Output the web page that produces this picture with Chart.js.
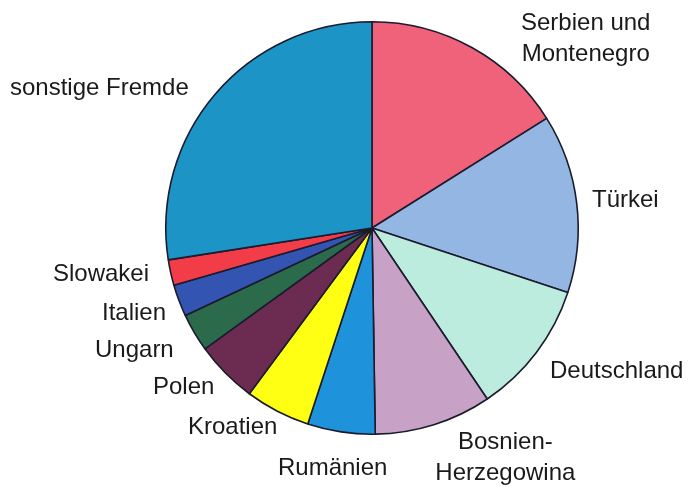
<!DOCTYPE html>
<html>
<head>
<meta charset="utf-8">
<script src="https://cdn.jsdelivr.net/npm/chart.js@4"></script>
<style>
html,body{margin:0;padding:0;background:#fff;}
#wrap{width:690px;height:487px;position:relative;}
</style>
</head>
<body>
<div id="wrap"><canvas id="c" width="690" height="487"></canvas></div>
<script>
const categories = ["Serbien und Montenegro","Türkei","Deutschland","Bosnien-Herzegowina","Rumänien","Kroatien","Polen","Ungarn","Italien","Slowakei","sonstige Fremde"];
const shares = [16.1, 14.0, 10.5, 9.2, 5.3, 5.1, 4.9, 3.0, 2.5, 2.0, 27.5];
const labelLines = [["Serbien und","Montenegro"],["Türkei"],["Deutschland"],["Bosnien-","Herzegowina"],["Rumänien"],["Kroatien"],["Polen"],["Ungarn"],["Italien"],["Slowakei"],["sonstige Fremde"]];

const colors = ["#f0627a","#94b6e2","#bcecde","#c8a2c6","#1e92da","#ffff14","#6c2c52","#2c6a4c","#3454b2","#f23c48","#1c94c6"];
// label anchors (left x, middle y of first line), line height
const labelPos = [[521,23],[592,200],[550,371],[458,442],[278,468],[188,427],[153,387],[95,350],[102,313],[53,274],[10,88]];
const lineCenter = [true,false,false,true,false,false,false,false,false,false,false];

const labelPlugin = {
  id:'outerLabels',
  afterDraw(chart){
    const ctx = chart.ctx;
    ctx.save();
    ctx.font = '24px "Liberation Sans", Arial, sans-serif';
    ctx.fillStyle = '#1a1a1a';
    ctx.textBaseline = 'middle';
    labelLines.forEach((lines,i)=>{
      const [x,y] = labelPos[i];
      if (lines.length>1){
        const widths = lines.map(l=>ctx.measureText(l).width);
        const maxW = Math.max(...widths);
        const cx = x + widths[0]/2;
        lines.forEach((l,j)=>{
          ctx.textAlign='center';
          ctx.fillText(l, cx, y + j*31);
        });
      } else {
        ctx.textAlign='left';
        ctx.fillText(lines[0], x, y);
      }
    });
    ctx.restore();
  }
};

new Chart(document.getElementById('c'), {
  type:'pie',
  data:{
    labels: categories,
    datasets:[{
      data: shares,
      backgroundColor: colors,
      borderColor: '#1b1b2e',
      borderWidth: 1.6
    }]
  },
  options:{
    responsive:false,
    animation:false,
    layout:{padding:{left:165,right:111,top:21,bottom:52}},
    plugins:{legend:{display:false},tooltip:{enabled:false}}
  },
  plugins:[labelPlugin]
});
</script>
</body>
</html>
